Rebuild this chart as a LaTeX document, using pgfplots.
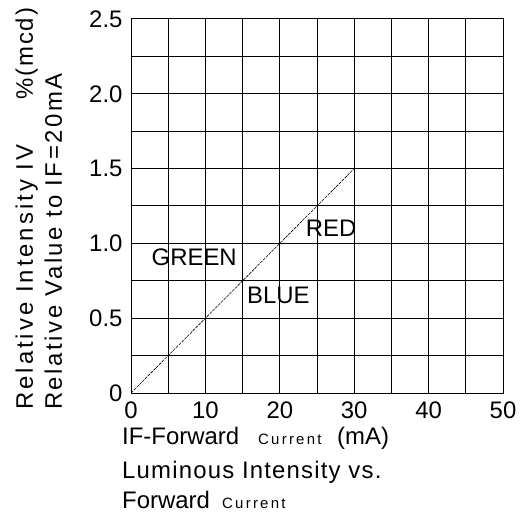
\documentclass[border=0pt]{standalone}
\usepackage{pgfplots}
\pgfplotsset{compat=1.18}
\usepackage{fontspec}
\setmainfont{Liberation Sans}

\newcommand{\bigf}{\fontsize{24}{28}\selectfont}
\newcommand{\smlf}{\fontsize{15}{18}\selectfont\addfontfeatures{LetterSpace=15}}

\begin{document}
\begin{tikzpicture}[x=1bp,y=1bp]
\path[use as bounding box] (-131,-127) rectangle (392,393);
\begin{axis}[
  at={(0,0)}, anchor=south west,
  scale only axis, width=372bp, height=374bp,
  xmin=0, xmax=50, ymin=0, ymax=2.5,
  xtick={0,10,...,50}, minor xtick={5,15,...,45},
  ytick={0,0.5,1,1.5,2,2.5}, minor ytick={0.25,0.75,1.25,1.75,2.25},
  yticklabels={0,0.5,1.0,1.5,2.0,2.5},
  grid=both,
  major grid style={black, line width=1pt},
  minor grid style={black, line width=1pt},
  axis line style={black, line width=1pt},
  major tick length=0pt, minor tick length=0pt,
  /pgf/number format/assume math mode=true,
  ticklabel style={font=\bigf},
  xticklabel style={yshift=-5bp},
  yticklabel style={xshift=-5bp},
]
\addplot[black, line width=0.6pt, dash pattern=on 3pt off 1pt] coordinates {(0,0) (10,0.5) (20,1.0) (30,1.5)};
\node[font=\bigf] at (axis cs:8.5,0.91) {GREEN};
\node[font=\bigf] at (axis cs:26.9,1.10) {RED};
\node[font=\bigf] at (axis cs:19.8,0.655) {BLUE};
\end{axis}
% axis titles
\node[rotate=90, anchor=base west, inner sep=0, font=\bigf\addfontfeatures{LetterSpace=12.5}] at (-98,-17) {Relative Intensity IV};
\node[rotate=90, anchor=base west, inner sep=0, font=\bigf\addfontfeatures{LetterSpace=8}] at (-98,293) {\%(mcd)};
\node[rotate=90, anchor=base west, inner sep=0, font=\bigf\addfontfeatures{LetterSpace=10.6}] at (-69,-17) {Relative Value to IF=20mA};
\node[anchor=base west, inner sep=0, font=\bigf] at (-9,-52) {IF-Forward};
\node[anchor=base west, inner sep=0, font=\smlf] at (127,-52) {Current};
\node[anchor=base west, inner sep=0, font=\bigf] at (206,-52) {(mA)};
\node[anchor=base west, inner sep=0, font=\bigf\addfontfeatures{LetterSpace=5}] at (-9,-85) {Luminous Intensity vs.};
\node[anchor=base west, inner sep=0, font=\bigf] at (-9,-115) {Forward};
\node[anchor=base west, inner sep=0, font=\smlf] at (91,-115) {Current};
\end{tikzpicture}
\end{document}
